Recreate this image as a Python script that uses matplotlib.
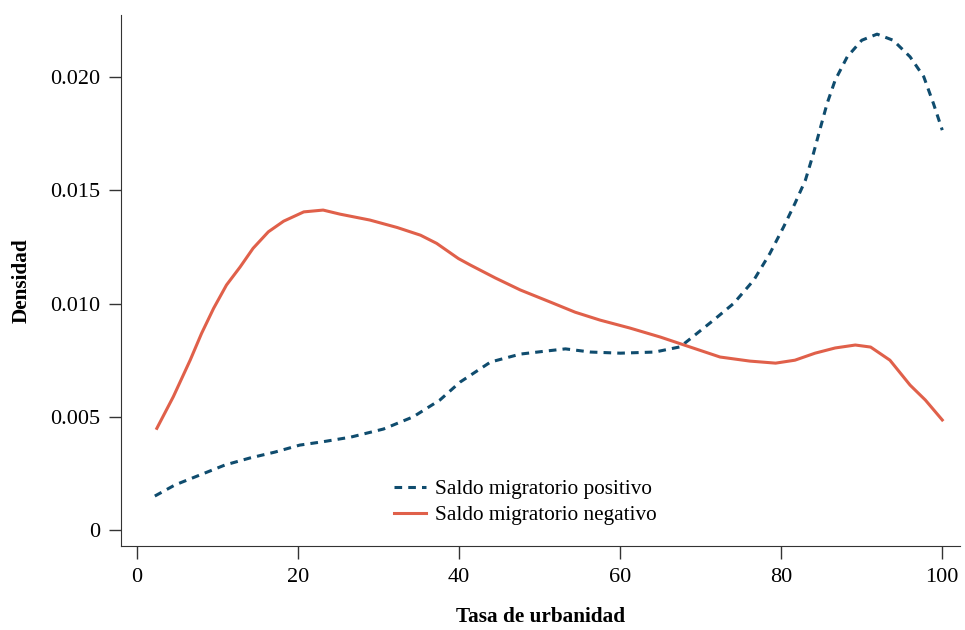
import matplotlib.pyplot as plt

plt.rcParams['font.family'] = ['Liberation Serif', 'DejaVu Serif']

# Density curves
pos_x = [2.2, 4.7, 7.8, 10.9, 14.0, 17.1, 20.2, 23.1, 26.5, 30.6, 34.3, 37.6,
         40.1, 43.9, 47.6, 50.7, 53.2, 56.3, 60.0, 64.3, 67.45, 71.6, 74.1, 76.6,
         78.6, 80.3, 81.7, 83.0, 84.0, 84.9, 85.7, 86.7, 88.2, 90.0, 91.9, 93.9,
         96.0, 97.7, 98.9, 100.0]
pos_y = [0.00150, 0.00199, 0.00243, 0.00287, 0.00318, 0.00344, 0.00375, 0.00390,
         0.00410, 0.00446, 0.00500, 0.00574, 0.00653, 0.00742, 0.00777, 0.00790,
         0.00800, 0.00786, 0.00781, 0.00786, 0.00809, 0.00927, 0.01001, 0.01104,
         0.01222, 0.01339, 0.01442, 0.01545, 0.01663, 0.01781, 0.01884, 0.01987,
         0.02090, 0.02163, 0.02190, 0.02163, 0.02090, 0.02002, 0.01884, 0.01766]

neg_x = [2.45, 4.5, 6.6, 8.0, 9.5, 11.1, 12.8, 14.4, 16.3, 18.2, 20.7, 23.1, 25.2,
         28.9, 32.3, 35.2, 37.2, 39.9, 41.4, 44.5, 47.6, 51.3, 54.4, 57.5, 61.2,
         65.0, 68.7, 72.4, 76.1, 79.3, 81.7, 84.2, 86.7, 89.2, 91.1, 93.5, 96.0,
         97.9, 100.0]
neg_y = [0.00449, 0.00589, 0.00751, 0.00868, 0.00979, 0.01082, 0.01162, 0.01244,
         0.01317, 0.01364, 0.01405, 0.01413, 0.01395, 0.01369, 0.01336, 0.01302,
         0.01266, 0.01199, 0.01170, 0.01113, 0.01060, 0.01007, 0.00962, 0.00927,
         0.00892, 0.00852, 0.00808, 0.00764, 0.00746, 0.00737, 0.00750, 0.00781,
         0.00804, 0.00817, 0.00808, 0.00750, 0.00640, 0.00574, 0.00486]

x_ticks = [0, 20, 40, 60, 80, 100]
y_ticks = [0, 0.005, 0.010, 0.015, 0.020]
y_labels = ['0', '0.005', '0.010', '0.015', '0.020']

fig = plt.figure(figsize=(9.65, 6.3), dpi=100)
ax = fig.add_axes([0.1254, 0.1333, 0.8694, 0.8427])

ax.plot(pos_x, pos_y, color='#0f4c6e', linestyle=(0, (2.5, 2)), linewidth=2.2,
        label='Saldo migratorio positivo')
ax.plot(neg_x, neg_y, color='#e0604a', linewidth=2.2,
        label='Saldo migratorio negativo')

ax.set_xlim(-2.0, 102.2)
ax.set_ylim(-0.000707, 0.02274)
ax.set_xticks(x_ticks)
ax.set_yticks(y_ticks)
ax.set_yticklabels(y_labels)
ax.tick_params(labelsize=16, length=9, width=1, color='#333333', pad=6)
ax.tick_params(axis='x', pad=7)

for side in ['top', 'right']:
    ax.spines[side].set_visible(False)
for side in ['left', 'bottom']:
    ax.spines[side].set_color('#333333')

ax.set_xlabel('Tasa de urbanidad', fontsize=15.3, fontweight='bold', labelpad=14)
ax.set_ylabel('Densidad', fontsize=15.3, fontweight='bold', labelpad=13)

ax.legend(loc='upper left', bbox_to_anchor=(0.315, 0.142), frameon=False,
          fontsize=15.3, handlelength=1.5, handletextpad=0.45, borderaxespad=0,
          labelspacing=0.3)

plt.savefig('out.png', dpi=100)
